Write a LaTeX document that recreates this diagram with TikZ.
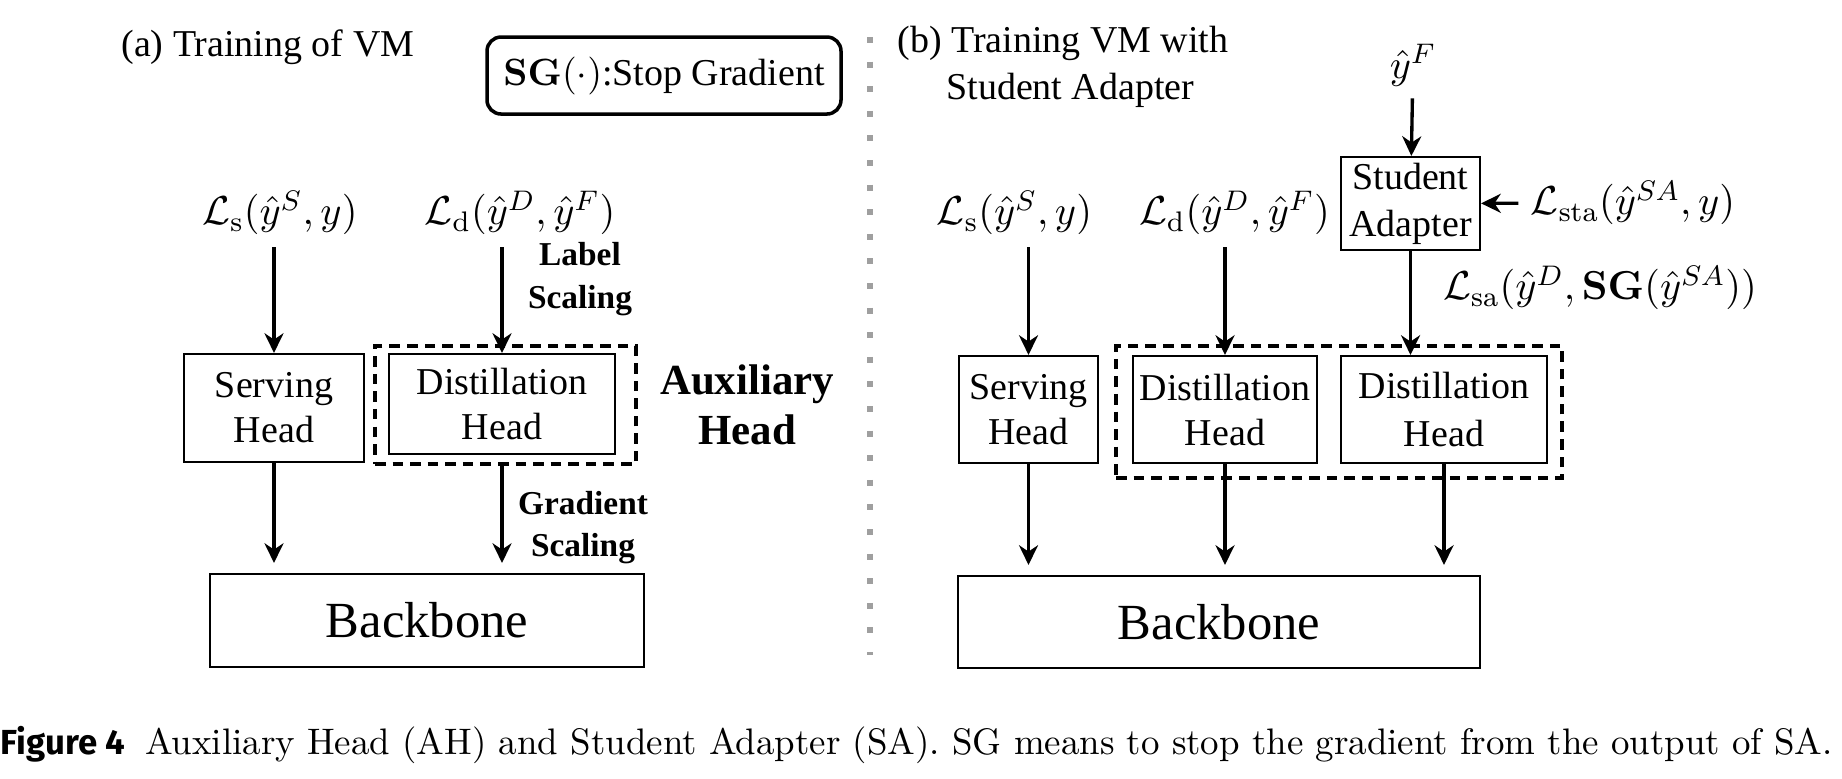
\documentclass[tikz,border=0pt]{standalone}
\usepackage{fix-cm}
\usepackage[no-math]{fontspec}
\usepackage{amsmath}
\usepackage{tikz}
\usetikzlibrary{arrows.meta, positioning}
\newfontfamily\timesfont{Liberation Serif}
\newfontfamily\figsans{Fira Sans}

\begin{document}
\begin{tikzpicture}[>={Stealth[length=5.6pt,width=5.4pt,inset=1.8pt]},
    headbox/.style={rectangle,draw,line width=0.6pt,align=center,inner sep=0pt,font=\timesfont\fontsize{10.8}{12.8}\selectfont},
    auxbox/.style={rectangle,draw,line width=1pt,dash pattern=on 3pt off 2pt,inner sep=0pt},
    loss/.style={font=\fontsize{11.5}{14}\selectfont},
    flow/.style={->,line width=0.95pt},
    tag/.style={align=center,font=\timesfont\bfseries\fontsize{9.5}{12}\selectfont},
    title/.style={anchor=west,align=left,font=\timesfont\fontsize{10.8}{13.3}\selectfont}]

    \useasboundingbox (0,0) rectangle (18.42,-7.78);

    % (a) Training of VM
    \node[title] (titleA) at (1.09,-0.47) {(a) Training of VM};
    \node[headbox,rounded corners=4pt,line width=1pt,minimum width=3.54cm,minimum height=0.77cm] (sg) at (6.64,-0.755) {$\mathbf{SG}(\cdot)$:Stop Gradient};

    \node[loss] (lsA) at (2.80,-2.13) {$\mathcal{L}_\mathrm{s}(\hat{y}^S, y)$};
    \node[loss] (ldA) at (5.20,-2.13) {$\mathcal{L}_\mathrm{d}(\hat{y}^D, \hat{y}^F)$};
    \node[tag] (labelA) at (5.80,-2.79) {Label\\Scaling};

    \node[headbox,minimum width=1.80cm,minimum height=1.08cm] (serA) at (2.74,-4.08) {Serving\\Head};
    \node[headbox,minimum width=2.26cm,minimum height=1.00cm] (dhA) at (5.02,-4.04) {Distillation\\Head};
    \node[auxbox,minimum width=2.61cm,minimum height=1.18cm] (auxA) at (5.055,-4.05) {};
    \node[align=center,font=\timesfont\bfseries\fontsize{12.2}{14.2}\selectfont] (auxtag) at (7.47,-4.05) {Auxiliary\\Head};
    \node[tag] (gradA) at (5.83,-5.275) {Gradient\\Scaling};

    \node[headbox,font=\timesfont\fontsize{14.4}{16}\selectfont,minimum width=4.34cm,minimum height=0.93cm] (bbA) at (4.27,-6.205) {Backbone};

    \draw[flow] (lsA.south -| serA.north) -- (serA.north);
    \draw[flow] (ldA.south -| dhA.north) -- (dhA.north);
    \draw[flow,shorten >=0.1cm] (serA.south) -- (serA.south |- bbA.north);
    \draw[flow,shorten >=0.1cm] (auxA.south -| dhA.south) -- (dhA.south |- bbA.north);

    % trennlinie
    \draw[gray!75,line width=1.7pt,dash pattern=on 1.7pt off 5.3pt] (8.70,-0.37) -- (8.70,-6.55);

    % (b) Training VM with Student Adapter
    \node[title] (titleB) at (8.85,-0.665) {(b) Training VM with\\\hspace*{0.49cm}Student Adapter};
    \node[loss] (yF) at (14.13,-0.65) {$\hat{y}^F$};
    \node[headbox,minimum width=1.39cm,minimum height=0.93cm,font=\timesfont\fontsize{10.8}{13.4}\selectfont] (sa) at (14.105,-2.035) {Student\\Adapter};
    \node[loss] (lsta) at (16.33,-2.03) {$\mathcal{L}_\mathrm{sta}(\hat{y}^{SA}, y)$};

    \node[loss] (lsB) at (10.145,-2.13) {$\mathcal{L}_\mathrm{s}(\hat{y}^S, y)$};
    \node[loss] (ldB) at (12.345,-2.13) {$\mathcal{L}_\mathrm{d}(\hat{y}^D, \hat{y}^F)$};
    \node[loss] (lsa) at (16.0,-2.88) {$\mathcal{L}_\mathrm{sa}(\hat{y}^D, \mathbf{SG}(\hat{y}^{SA}))$};

    \node[headbox,minimum width=1.39cm,minimum height=1.07cm] (serB) at (10.285,-4.095) {Serving\\Head};
    \node[headbox,minimum width=1.84cm,minimum height=1.07cm] (dh1B) at (12.25,-4.095) {Distillation\\Head};
    \node[headbox,minimum width=2.06cm,minimum height=1.07cm] (dh2B) at (14.44,-4.095) {Distillation\\[1pt]Head};
    \node[auxbox,minimum width=4.46cm,minimum height=1.32cm] (auxB) at (13.39,-4.12) {};

    \node[headbox,font=\timesfont\fontsize{14.4}{16}\selectfont,minimum width=5.22cm,minimum height=0.92cm] (bbB) at (12.19,-6.22) {Backbone};

    \draw[flow] (yF) -- (sa);
    \draw[flow] (lsta) -- (sa);
    \draw[flow] (lsB.south -| serB.north) -- (serB.north);
    \draw[flow] (ldB.south -| dh1B.north) -- (dh1B.north);
    \draw[flow] (sa.south) -- (sa.south |- dh2B.north);
    \draw[flow,shorten >=0.1cm] (serB.south) -- (serB.south |- bbB.north);
    \draw[flow,shorten >=0.1cm] (dh1B.south) -- (dh1B.south |- bbB.north);
    \draw[flow,shorten >=0.1cm] (dh2B.south) -- (dh2B.south |- bbB.north);

    % caption
    \node[anchor=west,inner sep=0pt,font=\fontsize{10.5}{12}\selectfont] (cap) at (0,-7.45) {{\figsans\bfseries\fontsize{9.9}{12}\selectfont Figure 4}\hspace{0.2cm}Auxiliary Head (AH) and Student Adapter (SA). SG means to stop the gradient from the output of SA.};
\end{tikzpicture}
\end{document}
